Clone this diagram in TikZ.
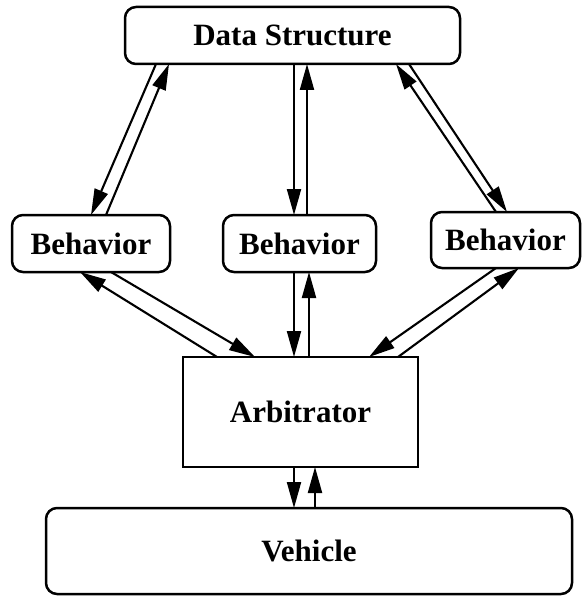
\documentclass[tikz,border=0pt]{standalone}
\usepackage{fontspec}
\setmainfont{Liberation Serif}
\usetikzlibrary{arrows.meta}
\begin{document}
\begin{tikzpicture}[x=1pt,y=-1pt,
  box/.style={draw, line width=2.5pt, inner sep=0pt, outer sep=0pt,
    font=\fontsize{31}{33}\selectfont\bfseries},
  rbox/.style={box, rounded corners=11pt},
  link/.style={line width=2.1pt, -{Triangle[length=26pt,width=14pt]}}]
  \useasboundingbox (0,0) rectangle (582,596);

  % blocks
  \node[rbox, minimum width=335pt, minimum height=57pt] (ds) at (292.5,35.5) {Data Structure};
  \node[rbox, minimum width=158pt, minimum height=57pt] (b1) at (91,243.5) {Behavior};
  \node[rbox, minimum width=153pt, minimum height=57pt] (b2) at (299.5,243.5) {Behavior};
  \node[rbox, minimum width=149pt, minimum height=56pt] (b3) at (505.5,240) {Behavior};
  \node[box, minimum width=235pt, minimum height=110pt] (arb) at (300.5,412) {Arbitrator};
  \node[rbox, minimum width=526pt, minimum height=86pt] (veh) at (309,551) {Vehicle};

  % data structure <-> behaviors
  \draw[link] ([xshift=-136.5pt]ds.south) -- ([xshift=0pt]b1.north);
  \draw[link] ([xshift=15pt]b1.north) -- ([xshift=-123.5pt]ds.south);
  \draw[link] ([xshift=1.5pt]ds.south) -- ([xshift=-5.5pt]b2.north);
  \draw[link] ([xshift=7.5pt]b2.north) -- ([xshift=14.5pt]ds.south);
  \draw[link] ([xshift=-9.5pt]b3.north) -- ([xshift=103.5pt]ds.south);
  \draw[link] ([xshift=116.5pt]ds.south) -- ([xshift=1.5pt]b3.north);

  % behaviors <-> arbitrator
  \draw[link] ([xshift=-83.5pt]arb.north) -- ([xshift=-11pt]b1.south);
  \draw[link] ([xshift=20pt]b1.south) -- ([xshift=-45.5pt]arb.north);
  \draw[link] ([xshift=-5.5pt]b2.south) -- ([xshift=-6.5pt]arb.north);
  \draw[link] ([xshift=8.5pt]arb.north) -- ([xshift=9.5pt]b2.south);
  \draw[link] ([xshift=-9.5pt]b3.south) -- ([xshift=68.5pt]arb.north);
  \draw[link] ([xshift=97.5pt]arb.north) -- ([xshift=13.5pt]b3.south);

  % arbitrator <-> vehicle
  \draw[link] ([xshift=-6.5pt]arb.south) -- ([xshift=-15pt]veh.north);
  \draw[link] ([xshift=6pt]veh.north) -- ([xshift=14.5pt]arb.south);
\end{tikzpicture}
\end{document}
